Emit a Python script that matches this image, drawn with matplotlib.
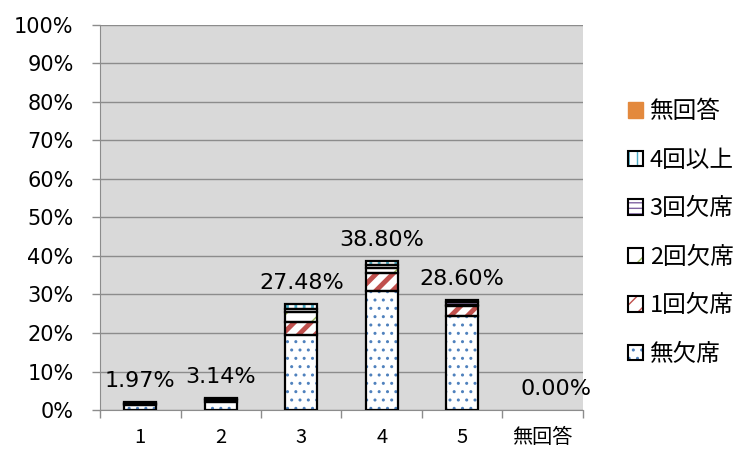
import numpy as np
import matplotlib
matplotlib.use('Agg')
import matplotlib.pyplot as plt
from matplotlib.patches import Patch
from matplotlib.legend_handler import HandlerTuple

plt.rcParams['font.family'] = ['Noto Sans CJK JP', 'DejaVu Sans']

categories = ['1', '2', '3', '4', '5', '無回答']
series_names = ['無欠席', '1回欠席', '2回欠席', '3回欠席', '4回以上', '無回答']
# percent of all respondents
no_absence = [1.30, 2.20, 19.40, 30.80, 24.40, 0.0]
absent_1 = [0.30, 0.35, 3.40, 4.70, 2.50, 0.0]
absent_2 = [0.10, 0.20, 2.60, 1.30, 0.50, 0.0]
absent_3 = [0.10, 0.20, 0.80, 0.80, 0.60, 0.0]
absent_4plus = [0.17, 0.19, 1.28, 1.20, 0.60, 0.0]
no_answer = [0.0, 0.0, 0.0, 0.0, 0.0, 0.0]
totals = [1.97, 3.14, 27.48, 38.80, 28.60, 0.00]

series = [no_absence, absent_1, absent_2, absent_3, absent_4plus, no_answer]
hatch_colors = ['#4f81bd', '#c0504d', '#9bbb59', '#8064a2', '#4bacc6', '#e3893d']
hatches = ['..', '//', '/', '---', '||', None]
hatch_lw = [1.0, 3.5, 1.0, 1.5, 2.0, 1.0]

fig = plt.figure(figsize=(7.48, 4.51), dpi=100)
ax = fig.add_axes([0.1337, 0.0909, 0.6457, 0.8537])
ax.set_facecolor('#d9d9d9')

x = np.arange(len(categories))
width = 0.4
bottom = np.zeros(len(categories))
for vals, hc, h, lw in zip(series, hatch_colors, hatches, hatch_lw):
    vals = np.array(vals)
    with plt.rc_context({'hatch.linewidth': lw}):
        if h is None:
            ax.bar(x, vals, width, bottom=bottom, color=hc, linewidth=0, zorder=3)
        else:
            ax.bar(x, vals, width, bottom=bottom, facecolor='white', edgecolor=hc,
                   hatch=h, linewidth=0, zorder=3)
    ax.bar(x, vals, width, bottom=bottom, fill=False, edgecolor='black',
           linewidth=np.where(vals > 0, 1.6, 0), zorder=4)
    bottom += vals

for xi, t in zip(x, totals):
    dx = 0.17 if t == 0 else 0
    ax.annotate(f'{t:.2f}%', (xi + dx, t), xytext=(0, 8), textcoords='offset points',
                ha='center', va='bottom', fontsize=16, family=['DejaVu Sans'], zorder=5)

ax.set_ylim(0, 100)
ax.set_xlim(-0.5, len(categories) - 0.5)
ax.set_yticks(np.arange(0, 101, 10))
ax.set_yticklabels([f'{v}%' for v in range(0, 101, 10)], fontsize=15, family=['DejaVu Sans'])
ax.yaxis.grid(True, color='#8c8c8c', linewidth=1.0, zorder=0)
ax.set_axisbelow(True)

ax.set_xticks(x)
ax.set_xticklabels(categories, fontsize=14.5)
ax.tick_params(axis='x', length=0, pad=12)
ax.set_xticks(np.arange(-0.5, len(categories)), minor=True)
ax.tick_params(axis='x', which='minor', length=6, color='#8c8c8c', width=1)
ax.tick_params(axis='y', length=6, color='#8c8c8c', width=1, pad=13)

for side in ['top', 'right']:
    ax.spines[side].set_visible(False)
ax.spines['left'].set_color('#8c8c8c')
ax.spines['bottom'].set_color('#8c8c8c')

handles = []
for name, hc, h, lw in zip(series_names, hatch_colors, hatches, hatch_lw):
    if h is None:
        handles.append(Patch(facecolor=hc, edgecolor=hc))
    else:
        with plt.rc_context({'hatch.linewidth': min(lw, 2.5)}):
            inner = Patch(facecolor='white', edgecolor=hc, hatch=h, linewidth=0)
        outer = Patch(fill=False, edgecolor='black', linewidth=1.5)
        handles.append((inner, outer))
fig.legend(handles[::-1], series_names[::-1], loc='center left',
           bbox_to_anchor=(0.811, 0.483), frameon=False, fontsize=17,
           handlelength=0.62, handleheight=0.62, handletextpad=0.3,
           labelspacing=1.08, handler_map={tuple: HandlerTuple(ndivide=1, pad=0)})

fig.savefig('out.png', dpi=100)
